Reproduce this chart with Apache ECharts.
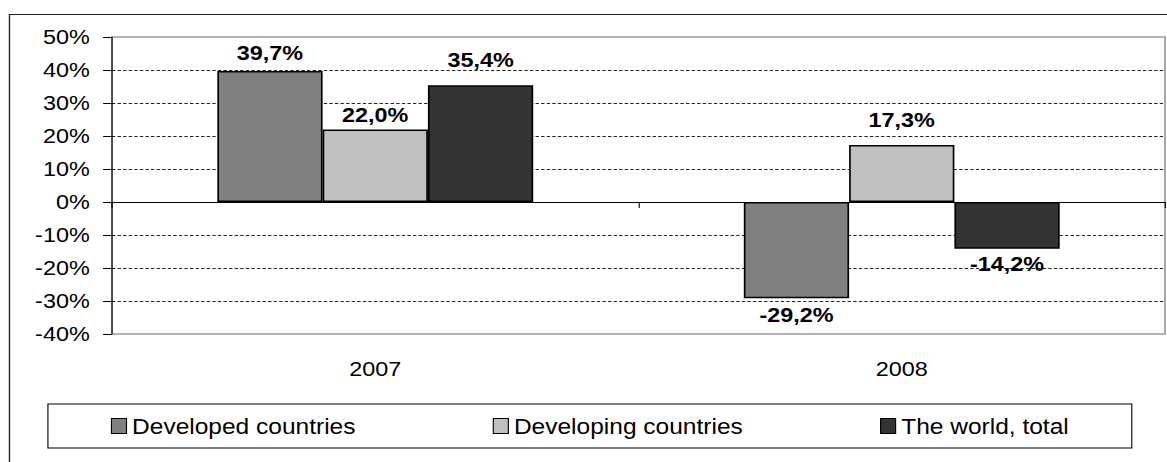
<!DOCTYPE html>
<html>
<head>
<meta charset="utf-8">
<script src="https://cdn.jsdelivr.net/npm/echarts@6/dist/echarts.min.js"></script>
<style>
  html, body { margin: 0; padding: 0; background: #fff; overflow: hidden; }
  #wrap { width: 1167px; height: 462px; overflow: hidden; }
  /* the chart is laid out narrower and widened horizontally, giving the wide lettering */
  #chart { width: 1047px; height: 462px; transform: scaleX(1.11461); transform-origin: 0 0; }
</style>
</head>
<body>
<div id="wrap"><div id="chart"></div></div>
<script>
// Growth rates by year, percent
const categories = ['2007', '2008'];
const seriesNames = ['Developed countries', 'Developing countries', 'The world, total'];
const developed = [39.7, -29.2];
const developing = [22.0, 17.3];
const worldTotal = [35.4, -14.2];
const yMin = -40;
const yMax = 50;
const yStep = 10;

// label spacing from the bar end, per series and year
const labelGaps = [[8, 6], [4, 15], [15, 5]];
const fills = ['#808080', '#c0c0c0', '#333333'];

const font = 'Liberation Sans, Arial, Helvetica, sans-serif';
const fmtPct = v => v.toFixed(1).replace('.', ',') + '%';

const valueSets = [developed, developing, worldTotal];
const series = valueSets.map((vals, si) => ({
  name: seriesNames[si],
  type: 'bar',
  xAxisIndex: 0,
  barGap: '0%',
  barCategoryGap: '40%',
  itemStyle: { color: fills[si], borderColor: '#000', borderWidth: 1.5 },
  label: {
    show: true,
    fontFamily: font,
    fontSize: 21,
    fontWeight: 'bold',
    color: '#000',
    formatter: p => fmtPct(p.value)
  },
  data: vals.map((v, i) => ({
    value: v,
    label: { position: v >= 0 ? 'top' : 'bottom', distance: labelGaps[si][i] }
  }))
}));

const chart = echarts.init(document.getElementById('chart'), null, { renderer: 'svg' });
chart.setOption({
  animation: false,
  backgroundColor: '#fff',
  grid: {
    left: 100.5, right: 1.8, top: 37, height: 297,
    show: true, borderColor: '#9a9a9a', borderWidth: 1.5
  },
  legend: {
    left: 43, top: 404,
    padding: [11, 56.5, 11, 56.5],
    itemGap: 123,
    itemWidth: 13.5, itemHeight: 15,
    icon: 'rect',
    borderColor: '#000', borderWidth: 1,
    itemStyle: { borderWidth: 1 },
    textStyle: { fontFamily: font, fontSize: 22, color: '#000' },
    data: seriesNames
  },
  xAxis: [
    {
      type: 'category',
      data: categories,
      position: 'bottom',
      axisLine: { onZero: true, lineStyle: { color: '#000', width: 1 } },
      axisTick: { show: true, length: 6, lineStyle: { color: '#000' } },
      axisLabel: { show: false },
      splitLine: { show: false }
    },
    {
      type: 'category',
      data: categories,
      position: 'bottom',
      axisLine: { show: false, onZero: false },
      axisTick: { show: false },
      axisLabel: { margin: 24, fontFamily: font, fontSize: 21, color: '#000' },
      splitLine: { show: false }
    }
  ],
  yAxis: {
    type: 'value',
    min: yMin, max: yMax, interval: yStep,
    axisLine: { show: true, lineStyle: { color: '#000', width: 1 } },
    axisTick: { show: true, length: 8, lineStyle: { color: '#000' } },
    axisLabel: {
      margin: 20, fontFamily: font, fontSize: 21, color: '#000',
      formatter: v => v + '%'
    },
    splitLine: {
      show: true, showMinLine: false, showMaxLine: false,
      lineStyle: { color: '#222', width: 1, type: [3, 2] }
    }
  },
  graphic: [{
    type: 'rect',
    silent: true,
    z: -10,
    shape: { x: 8.5, y: 14.5, width: 1400, height: 700 },
    style: { fill: 'none', stroke: '#222', lineWidth: 1.2 }
  }],
  series: series
});
</script>
</body>
</html>
